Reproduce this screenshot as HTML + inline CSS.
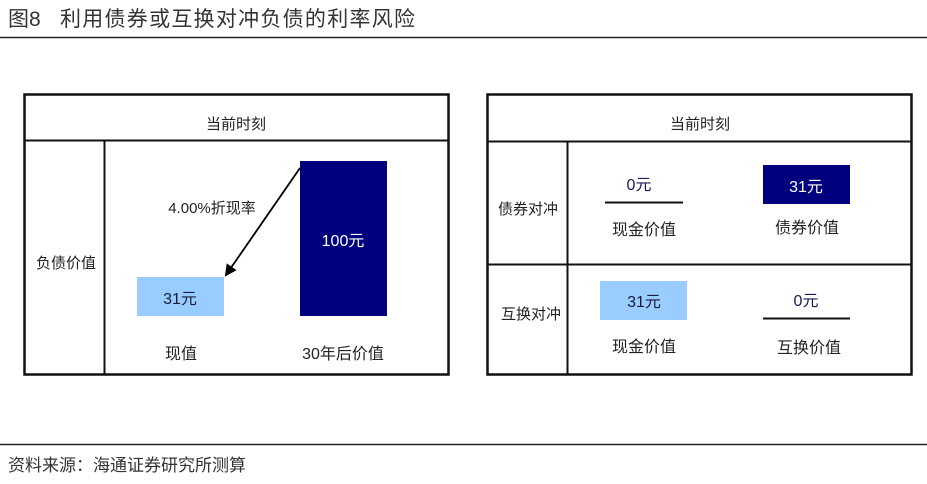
<!DOCTYPE html>
<html><head><meta charset="utf-8"><style>
body{margin:0;background:#fff;}
svg{display:block;}
text{font-family:"Liberation Sans","Noto Sans CJK SC",sans-serif;}
</style></head><body>
<svg width="927" height="484" viewBox="0 0 927 484" xmlns="http://www.w3.org/2000/svg">
<defs><marker id="ah" markerWidth="12" markerHeight="12" refX="10" refY="6" orient="auto" markerUnits="userSpaceOnUse"><path d="M0,0 L12,6 L0,12 Z" fill="#000"/></marker></defs>
<text x="8" y="26" font-size="21" fill="#333">图8</text>
<text x="60" y="26" font-size="21" fill="#333" textLength="355">利用债券或互换对冲负债的利率风险</text>
<line x1="0" y1="37.5" x2="927" y2="37.5" stroke="#222" stroke-width="1.5"/>
<!-- Left table -->
<rect x="24.5" y="94.5" width="424" height="280" fill="none" stroke="#111" stroke-width="2.5"/>
<line x1="24" y1="140.5" x2="448" y2="140.5" stroke="#111" stroke-width="2"/>
<line x1="104.5" y1="140" x2="104.5" y2="374" stroke="#111" stroke-width="2"/>
<text x="236" y="129" font-size="15" text-anchor="middle" fill="#222">当前时刻</text>
<text x="66" y="268" font-size="15" text-anchor="middle" fill="#222">负债价值</text>
<rect x="300" y="161" width="87" height="155" fill="#00007f"/>
<text x="343" y="246" font-size="16" text-anchor="middle" fill="#fff">100元</text>
<rect x="137" y="277" width="87" height="39" fill="#99ccff"/>
<text x="180" y="304" font-size="16" text-anchor="middle" fill="#1a1a3a">31元</text>
<line x1="300" y1="168" x2="226" y2="275" stroke="#000" stroke-width="1.8" marker-end="url(#ah)"/>
<text x="212" y="213" font-size="15" text-anchor="middle" fill="#222">4.00%折现率</text>
<text x="181" y="359" font-size="16" text-anchor="middle" fill="#222">现值</text>
<text x="343" y="359" font-size="16" text-anchor="middle" fill="#222">30年后价值</text>
<!-- Right table -->
<rect x="487.5" y="94.5" width="424" height="280" fill="none" stroke="#111" stroke-width="2.5"/>
<line x1="487" y1="141.5" x2="912" y2="141.5" stroke="#111" stroke-width="2"/>
<line x1="567.5" y1="141" x2="567.5" y2="374" stroke="#111" stroke-width="2"/>
<line x1="487" y1="264.5" x2="912" y2="264.5" stroke="#111" stroke-width="2"/>
<text x="700" y="129" font-size="15" text-anchor="middle" fill="#222">当前时刻</text>
<text x="528" y="214" font-size="15" text-anchor="middle" fill="#222">债券对冲</text>
<text x="531" y="319" font-size="15" text-anchor="middle" fill="#222">互换对冲</text>
<text x="639" y="190" font-size="16" text-anchor="middle" fill="#1a1a5a">0元</text>
<line x1="605" y1="202.5" x2="683" y2="202.5" stroke="#111" stroke-width="2"/>
<text x="644" y="235" font-size="16" text-anchor="middle" fill="#222">现金价值</text>
<rect x="763" y="165" width="87" height="39" fill="#00007f"/>
<text x="806" y="192" font-size="16" text-anchor="middle" fill="#fff">31元</text>
<text x="807" y="233" font-size="16" text-anchor="middle" fill="#222">债券价值</text>
<rect x="600" y="281" width="87" height="39" fill="#99ccff"/>
<text x="644" y="307" font-size="16" text-anchor="middle" fill="#1a1a3a">31元</text>
<text x="806" y="306" font-size="16" text-anchor="middle" fill="#1a1a5a">0元</text>
<line x1="763" y1="318.5" x2="850" y2="318.5" stroke="#111" stroke-width="2"/>
<text x="644" y="352" font-size="16" text-anchor="middle" fill="#222">现金价值</text>
<text x="809" y="353" font-size="16" text-anchor="middle" fill="#222">互换价值</text>
<line x1="0" y1="444.5" x2="927" y2="444.5" stroke="#222" stroke-width="1.5"/>
<text x="8" y="471" font-size="17" fill="#333">资料来源：海通证券研究所测算</text>
</svg>
</body></html>
